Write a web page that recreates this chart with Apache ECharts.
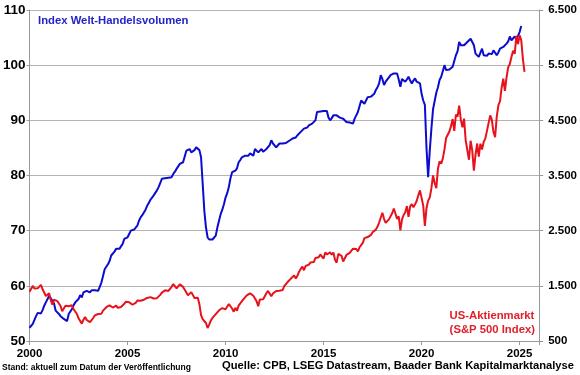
<!DOCTYPE html>
<html>
<head>
<meta charset="utf-8">
<script src="https://cdn.jsdelivr.net/npm/echarts@6/dist/echarts.min.js"></script>
<style>
  html, body { margin: 0; padding: 0; background: #fff; }
  #chart { width: 580px; height: 375px; }
</style>
</head>
<body>
<div id="chart"></div>
<script>
// monthly values, first point = Jan 2000
const START_YEAR = 2000

// CPB world trade volume index (left axis), Jan 2000 - Feb 2025
const tradeVolume = [
  52.4, 52.6, 53.1, 53.4, 54.5, 55.1, 54.8, 55.0, 55.6, 56.4, 57.0, 57.6,
  58.2, 58.0, 57.3, 56.8, 55.5, 55.2, 54.9, 54.5, 54.2, 54.0, 54.2, 53.6,
  54.9, 55.2, 55.8, 56.5, 57.0, 57.3, 57.6, 58.3, 57.9, 58.8, 58.5, 59.1,
  59.1, 58.8, 59.2, 59.3, 59.2, 59.4, 59.1, 59.0, 60.6, 61.8, 63.0, 63.2,
  63.9, 64.5, 65.5, 65.8, 66.2, 66.7, 66.4, 66.7, 66.5, 67.6, 68.5, 68.3,
  68.8, 69.4, 70.0, 69.8, 70.2, 70.3, 70.9, 71.8, 72.4, 72.8, 73.3, 73.8,
  74.5, 75.0, 75.6, 76.0, 76.4, 76.7, 77.3, 77.9, 78.6, 79.4, 79.7, 79.5,
  79.7, 79.6, 79.9, 79.7, 80.3, 80.7, 81.2, 81.5, 82.1, 82.0, 82.4, 82.7,
  84.5, 84.3, 84.8, 84.2, 84.5, 84.6, 85.1, 84.8, 84.6, 83.3, 78.5, 73.6,
  70.6, 68.8, 68.4, 68.2, 68.4, 68.2, 69.1, 70.6, 71.8, 73.0, 73.8, 74.8,
  76.0, 76.8, 77.9, 79.5, 80.6, 80.4, 80.9, 81.3, 82.4, 82.8, 83.3, 83.2,
  83.6, 83.4, 83.6, 84.0, 83.9, 83.6, 84.8, 84.5, 84.2, 84.5, 84.8, 84.3,
  84.5, 84.8, 85.1, 85.5, 86.4, 85.8, 85.5, 85.1, 85.4, 85.8, 85.6, 85.8,
  85.8, 85.9, 86.1, 86.3, 86.1, 86.7, 86.5, 86.9, 87.3, 87.6, 87.9, 88.0,
  88.5, 88.3, 88.7, 89.1, 89.0, 89.4, 89.6, 90.0, 91.5, 91.4, 91.6, 91.6,
  91.7, 91.5, 91.7, 90.5, 90.0, 90.4, 90.9, 90.6, 90.9, 90.9, 90.5, 90.6,
  90.3, 90.0, 89.7, 89.4, 89.6, 89.7, 89.4, 90.3, 90.9, 91.5, 91.2, 93.6,
  93.3, 93.0, 93.6, 94.2, 93.9, 94.3, 94.5, 94.8, 95.5, 96.0, 96.7, 98.2,
  97.5, 96.4, 97.0, 97.3, 97.8, 98.2, 98.0, 98.5, 98.2, 98.5, 97.4, 96.1,
  97.5, 97.3, 97.0, 97.4, 97.9, 97.2, 96.7, 97.2, 97.6, 97.0, 96.8, 96.7,
  94.8, 93.6, 92.8, 85.0, 79.7, 84.5, 88.5, 92.0, 93.5, 95.0, 96.0, 97.3,
  97.9, 97.6, 100.0, 99.1, 99.4, 99.2, 99.4, 99.7, 99.5, 101.8, 102.5, 104.2,
  103.6, 103.3, 103.6, 103.9, 104.2, 104.0, 104.8, 104.5, 103.6, 102.1, 101.8, 101.5,
  101.5, 103.0, 101.8, 102.1, 101.7, 102.1, 102.4, 102.0, 102.7, 102.4, 101.8, 102.3,
  103.0, 102.8, 103.3, 103.6, 103.9, 104.3, 105.2, 104.5, 104.6, 105.2, 104.8, 105.3,
  106.0, 107.1,
]

// S&P 500 (right axis), Jan 2000 - Apr 2025
const sp500 = [
  1394, 1366, 1499, 1452, 1421, 1455, 1431, 1518, 1437, 1429, 1315, 1320,
  1366, 1240, 1160, 1249, 1256, 1224, 1211, 1134, 1041, 1060, 1139, 1148,
  1130, 1107, 1147, 1076, 1067, 990, 912, 916, 815, 886, 936, 880,
  856, 841, 848, 917, 964, 975, 990, 1008, 996, 1051, 1058, 1112,
  1131, 1145, 1126, 1107, 1121, 1141, 1102, 1104, 1115, 1130, 1174, 1212,
  1181, 1204, 1181, 1157, 1192, 1191, 1234, 1220, 1229, 1207, 1249, 1248,
  1280, 1281, 1295, 1311, 1270, 1270, 1277, 1304, 1336, 1378, 1401, 1418,
  1438, 1407, 1421, 1482, 1531, 1503, 1455, 1474, 1527, 1549, 1481, 1468,
  1379, 1331, 1323, 1386, 1400, 1280, 1267, 1283, 1165, 969, 896, 903,
  826, 735, 798, 873, 919, 919, 987, 1021, 1057, 1036, 1096, 1115,
  1074, 1104, 1169, 1187, 1089, 1031, 1102, 1049, 1141, 1183, 1181, 1258,
  1286, 1327, 1326, 1364, 1345, 1321, 1292, 1219, 1131, 1253, 1247, 1258,
  1312, 1366, 1408, 1398, 1310, 1362, 1379, 1407, 1441, 1412, 1416, 1426,
  1498, 1515, 1569, 1598, 1631, 1606, 1686, 1633, 1682, 1757, 1806, 1848,
  1783, 1859, 1872, 1884, 1924, 1960, 1931, 2003, 1972, 2018, 2068, 2059,
  1995, 2105, 2068, 2086, 2107, 2063, 2104, 1972, 1920, 2079, 2080, 2044,
  1940, 1932, 2060, 2065, 2097, 2099, 2174, 2171, 2168, 2126, 2199, 2239,
  2279, 2364, 2363, 2384, 2412, 2423, 2470, 2472, 2519, 2575, 2648, 2674,
  2824, 2714, 2641, 2648, 2705, 2718, 2816, 2902, 2914, 2712, 2760, 2507,
  2704, 2784, 2834, 2946, 2752, 2942, 2980, 2926, 2977, 3038, 3141, 3231,
  3226, 2954, 2585, 2912, 3044, 3100, 3271, 3500, 3363, 3270, 3622, 3756,
  3714, 3811, 3973, 4181, 4204, 4298, 4395, 4523, 4308, 4605, 4567, 4766,
  4516, 4374, 4530, 4132, 4132, 3785, 4130, 3955, 3586, 3872, 4080, 3840,
  4077, 3970, 4109, 4169, 4180, 4450, 4589, 4508, 4288, 4194, 4568, 4770,
  4846, 5096, 5254, 5036, 5278, 5460, 5522, 5648, 5762, 5705, 6032, 5882,
  6041, 5955, 5612, 5380,
]

const BLUE = '#0c0cd0'
const RED = '#e8121c'
const FONT = '"Liberation Sans", Arial, sans-serif'

function toMonthly(values) {
  return values.map((v, i) => [START_YEAR + i / 12, v])
}

function thousands(v) {
  return String(v).replace(/\B(?=(\d{3})+(?!\d))/g, '.')
}

const chart = echarts.init(document.getElementById('chart'), null, { renderer: 'canvas' })

chart.setOption({
  animation: false,
  backgroundColor: '#fff',
  textStyle: { fontFamily: FONT },
  grid: { left: 29, right: 38, top: 10, bottom: 34 },
  xAxis: {
    type: 'value',
    min: 2000,
    max: 2026,
    interval: 5,
    axisLine: { show: true, onZero: false, lineStyle: { color: '#999', width: 1 } },
    axisTick: { show: true, length: 4, lineStyle: { color: '#999' } },
    axisLabel: {
      color: '#000',
      fontWeight: 'bold',
      fontSize: 11.5,
      margin: 7,
      fontFamily: FONT,
      formatter: (v) => (v % 5 === 0 ? String(v) : ''),
    },
    splitLine: { show: false },
  },
  yAxis: [
    {
      type: 'value',
      min: 50,
      max: 110,
      interval: 10,
      axisLine: { show: true, lineStyle: { color: '#999', width: 1 } },
      axisTick: { show: true, length: 3, lineStyle: { color: '#999' } },
      axisLabel: { color: '#000', fontWeight: 'bold', fontSize: 13.5, margin: 4, fontFamily: FONT },
      splitLine: { show: true, lineStyle: { color: '#b4b4b4', width: 1 } },
    },
    {
      type: 'value',
      position: 'right',
      min: 500,
      max: 6500,
      interval: 1000,
      axisLine: { show: true, lineStyle: { color: '#999', width: 1 } },
      axisTick: { show: true, length: 4, lineStyle: { color: '#999' } },
      axisLabel: {
        color: '#000',
        fontWeight: 'bold',
        fontSize: 11.5,
        margin: 9,
        fontFamily: FONT,
        formatter: thousands,
      },
      splitLine: { show: false },
    },
  ],
  series: [
    {
      name: 'Index Welt-Handelsvolumen',
      type: 'line',
      yAxisIndex: 0,
      showSymbol: false,
      symbol: 'none',
      lineStyle: { color: BLUE, width: 2 },
      data: toMonthly(tradeVolume),
    },
    {
      name: 'US-Aktienmarkt (S&P 500 Index)',
      type: 'line',
      yAxisIndex: 1,
      showSymbol: false,
      symbol: 'none',
      lineStyle: { color: RED, width: 2 },
      data: toMonthly(sp500),
    },
  ],
  graphic: [
    {
      type: 'text',
      left: 38,
      top: 15,
      style: { text: 'Index Welt-Handelsvolumen', fill: '#2323c8', font: 'bold 11.3px ' + FONT },
    },
    {
      type: 'text',
      right: 45,
      top: 309,
      style: {
        text: 'US-Aktienmarkt\n(S&P 500 Index)',
        fill: '#e0202a',
        font: 'bold 11.3px ' + FONT,
        align: 'right',
        lineHeight: 14,
      },
    },
    {
      type: 'text',
      left: 2,
      top: 363,
      style: { text: 'Stand: aktuell zum Datum der Veröffentlichung', fill: '#000', font: 'bold 8.5px ' + FONT },
    },
    {
      type: 'text',
      right: 6,
      top: 360,
      style: {
        text: 'Quelle: CPB, LSEG Datastream, Baader Bank Kapitalmarktanalyse',
        fill: '#000',
        font: 'bold 11.2px ' + FONT,
      },
    },
  ],
})
</script>
</body>
</html>
